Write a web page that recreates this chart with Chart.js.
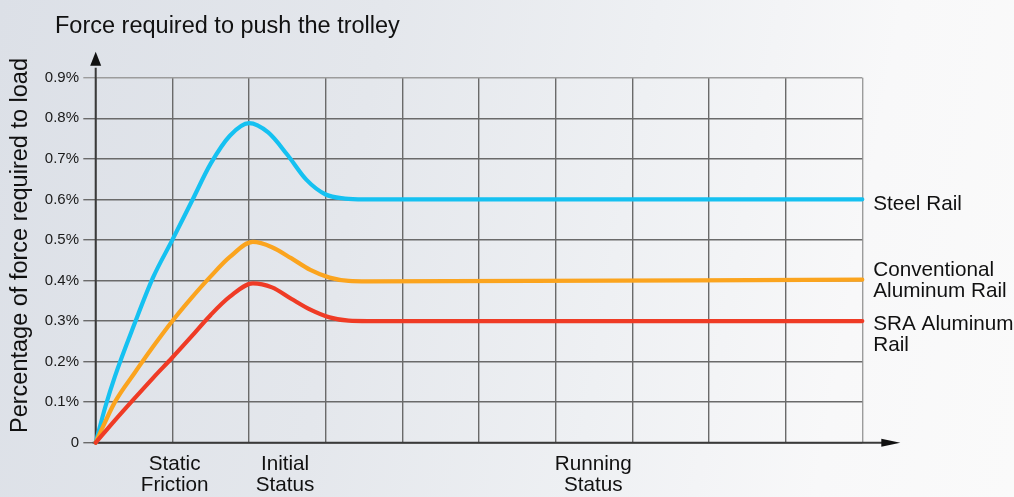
<!DOCTYPE html>
<html>
<head>
<meta charset="utf-8">
<script src="https://cdn.jsdelivr.net/npm/chart.js@4.4.1/dist/chart.umd.min.js"></script>
<style>
  html, body { margin: 0; padding: 0; }
  body {
    width: 1014px; height: 497px; overflow: hidden;
    background: linear-gradient(100deg, #dce0e7 0%, #e4e7ec 35%, #eef0f3 60%, #f8f8f9 82%, #fafafa 100%);
  }
  #wrap { position: relative; width: 1014px; height: 497px; }
</style>
</head>
<body>
<div id="wrap"><canvas id="c" width="1014" height="497"></canvas></div>
<script>
// ---- data (x in grid-column units, y in percent) ----
const steelX  = [0, 0.125, 0.25, 0.5, 0.75, 1.0, 1.25, 1.5, 1.75, 2.0, 2.25, 2.5, 2.75, 3.0, 3.25, 3.5, 10];
const steelY  = [0, 0.088, 0.163, 0.29, 0.408, 0.5, 0.594, 0.688, 0.757, 0.788, 0.765, 0.71, 0.648, 0.612, 0.602, 0.6, 0.6];
const convX   = [0, 0.25, 0.5, 0.75, 1.0, 1.25, 1.5, 1.75, 2.05, 2.3, 2.55, 2.8, 3.05, 3.3, 3.55, 10];
const convY   = [0, 0.1, 0.17, 0.237, 0.3, 0.357, 0.41, 0.458, 0.495, 0.482, 0.455, 0.426, 0.407, 0.399, 0.398, 0.402];
const sraX    = [0, 0.25, 0.5, 0.75, 1.0, 1.25, 1.5, 1.75, 2.05, 2.3, 2.55, 2.8, 3.05, 3.3, 3.55, 10];
const sraY    = [0, 0.055, 0.108, 0.16, 0.21, 0.262, 0.315, 0.36, 0.393, 0.383, 0.355, 0.328, 0.309, 0.301, 0.3, 0.3];
const seriesNames = ['SRA Aluminum Rail', 'Conventional Aluminum Rail', 'Steel Rail'];
const yTicks = [0, 0.1, 0.2, 0.3, 0.4, 0.5, 0.6, 0.7, 0.8, 0.9];
const xGridTicks = [0, 1, 2, 3, 4, 5, 6, 7, 8, 9, 10];
const phaseLabels = [['Static', 'Friction'], ['Initial', 'Status'], ['Running', 'Status']];
const phasePos = [1.03, 2.47, 6.49];
const endLabels = [['SRA Aluminum', 'Rail'], ['Conventional', 'Aluminum Rail'], ['Steel Rail']];
const chartTitle = 'Force required to push the trolley';
const yTitle = 'Percentage of force required to load';

const toPts = (xs, ys) => xs.map((v, i) => ({ x: v, y: ys[i] }));
const FONT = "'Liberation Sans', Arial, sans-serif";

const deco = {
  id: 'deco',
  beforeDatasetsDraw(chart) {
    const { ctx, chartArea: a, scales: { x, y } } = chart;
    const x0 = x.getPixelForValue(0), y0 = y.getPixelForValue(0);
    ctx.save();
    ctx.strokeStyle = '#3a3a3a';
    ctx.fillStyle = '#111';
    ctx.lineWidth = 2;
    ctx.beginPath(); ctx.moveTo(x0 - 3, y0); ctx.lineTo(a.right + 22, y0); ctx.stroke();
    ctx.beginPath(); ctx.moveTo(a.right + 38, y0); ctx.lineTo(a.right + 19, y0 - 4); ctx.lineTo(a.right + 19, y0 + 4); ctx.closePath(); ctx.fill();
    ctx.beginPath(); ctx.moveTo(x0, y0 + 1); ctx.lineTo(x0, a.top - 10); ctx.stroke();
    ctx.beginPath(); ctx.moveTo(x0, a.top - 26); ctx.lineTo(x0 - 5.5, a.top - 12); ctx.lineTo(x0 + 5.5, a.top - 12); ctx.closePath(); ctx.fill();
    ctx.restore();
  },
  afterDraw(chart) {
    const { ctx, chartArea: a, scales: { y } } = chart;
    ctx.save();
    ctx.fillStyle = '#111';
    ctx.textBaseline = 'alphabetic';
    ctx.font = '23.5px ' + FONT;
    ctx.textAlign = 'left';
    ctx.fillText(chartTitle, 55, 33);
    ctx.save();
    ctx.translate(26.5, 245.5);
    ctx.rotate(-Math.PI / 2);
    ctx.textAlign = 'center';
    ctx.fillText(yTitle, 0, 0);
    ctx.restore();
    ctx.font = '20.7px ' + FONT;
    ctx.textAlign = 'left';
    const offs = [9, -3.6, 10.2];
    const ends = [sraY[sraY.length - 1], convY[convY.length - 1], steelY[steelY.length - 1]];
    endLabels.forEach((lines, i) => {
      const base = y.getPixelForValue(ends[i]) + offs[i];
      lines.forEach((t, j) => ctx.fillText(t, a.right + 11, base + j * 20.7));
    });
    ctx.restore();
  }
};

new Chart(document.getElementById('c'), {
  type: 'line',
  data: {
    datasets: [
      { label: seriesNames[0], data: toPts(sraX, sraY), borderColor: '#ef3b25' },
      { label: seriesNames[1], data: toPts(convX, convY), borderColor: '#fba41e' },
      { label: seriesNames[2], data: toPts(steelX, steelY), borderColor: '#15c1f1' }
    ]
  },
  options: {
    responsive: false,
    animation: false,
    devicePixelRatio: 1,
    layout: { padding: { left: 0, top: 77.7, right: 151.7, bottom: 0 } },
    datasets: {
      line: {
        borderWidth: 4.2, pointRadius: 0, cubicInterpolationMode: 'monotone',
        fill: false, clip: 6, borderCapStyle: 'round', borderJoinStyle: 'round'
      }
    },
    plugins: { legend: { display: false }, tooltip: { enabled: false }, title: { display: false } },
    scales: {
      x: {
        type: 'linear', min: 0, max: 10,
        afterFit(s) { s.height = 54.3; },
        afterBuildTicks(s) {
          s.ticks = xGridTicks.map(v => ({ value: v })).concat(phasePos.map(v => ({ value: v })));
        },
        border: { display: false },
        grid: {
          drawTicks: false,
          lineWidth: 1.4,
          color: c => {
            const v = c.tick ? c.tick.value : 0;
            if (!Number.isInteger(v)) return 'rgba(0,0,0,0)';
            return v === 10 ? '#9c9c9c' : '#6a6a6a';
          }
        },
        ticks: {
          autoSkip: false, maxRotation: 0, minRotation: 0, padding: 11,
          color: '#111',
          font: { family: FONT, size: 20.7, lineHeight: '21px' },
          callback: v => {
            const i = phasePos.indexOf(v);
            return i >= 0 ? phaseLabels[i] : '';
          }
        }
      },
      y: {
        min: 0, max: 0.9,
        afterFit(s) { s.width = 95.7; },
        afterBuildTicks(s) { s.ticks = yTicks.map(v => ({ value: v })); },
        border: { display: false },
        grid: {
          tickLength: 12.4,
          lineWidth: 1.4,
          color: c => (c.tick && c.tick.value === 0.9) ? '#9c9c9c' : '#6a6a6a'
        },
        ticks: {
          padding: 4.3, color: '#1a1a1a',
          font: { family: FONT, size: 15 },
          callback: v => v === 0 ? '0' : v.toFixed(1) + '%'
        }
      }
    }
  },
  plugins: [deco]
});
</script>
</body>
</html>
